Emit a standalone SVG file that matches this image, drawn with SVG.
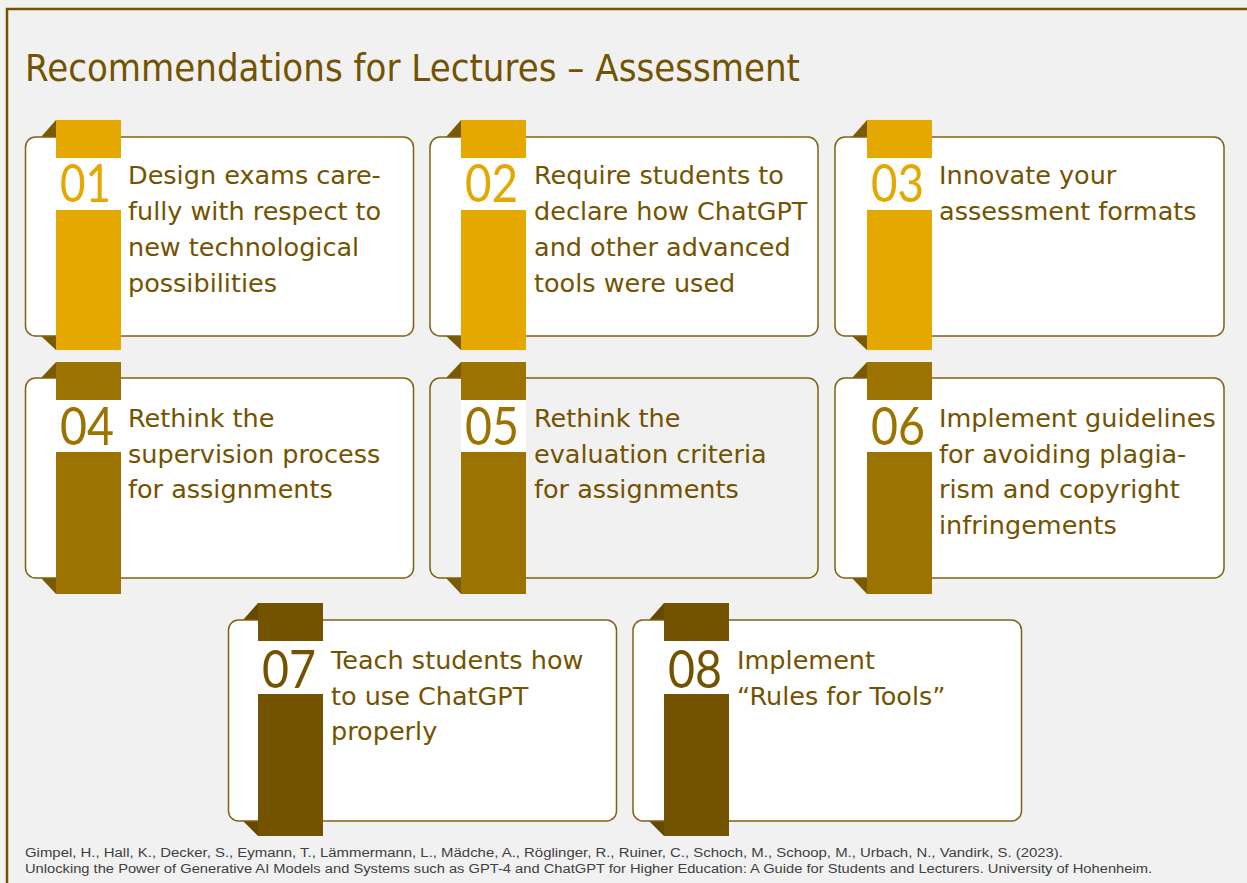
<svg xmlns="http://www.w3.org/2000/svg" width="1247" height="883" viewBox="0 0 1247 883">
<style>
.bg{fill:#f1f1f1}
.frame{fill:none;stroke:#735300;stroke-width:2.5}
.title{font-family:"DejaVu Sans",sans-serif;font-size:37px;fill:#735300}
.card{fill:#ffffff;stroke:#7f6214;stroke-width:1.5}
.card.gray{fill:#f1f1f1}
.gap{fill:#ffffff}
.body{font-family:"DejaVu Sans",sans-serif;font-size:25.5px;fill:#735300}
.num{font-family:Lato,"DejaVu Sans",sans-serif;font-size:53px}
.r1{fill:#e5a800}
.r2{fill:#9c7200}
.r3{fill:#745300}
.fold{fill:#7a5a00}
.fold3{fill:#664800}
.foot{font-family:"Liberation Sans",sans-serif;font-size:12.5px;fill:#404040}
</style>
<rect class="bg" x="0" y="0" width="1247" height="883"/>
<rect class="frame" x="7" y="9" width="1300" height="1000"/>
<text class="title" x="25" y="81" textLength="775" lengthAdjust="spacingAndGlyphs">Recommendations for Lectures – Assessment</text>

<g id="card01">
<polygon class="fold" points="41,137 56,120 56,137"/>
<polygon class="fold" points="41,336 56,350 56,336"/>
<rect class="card" x="25.5" y="137" width="388" height="199" rx="10"/>
<rect class="r1" x="56" y="120" width="65" height="230"/>
<rect class="gap" x="56" y="158" width="65" height="52"/>
<text class="num r1" x="60" y="202" textLength="51" lengthAdjust="spacingAndGlyphs">01</text>
<text class="body" x="128" y="183.5">Design exams care-</text>
<text class="body" x="128" y="219.5">fully with respect to</text>
<text class="body" x="128" y="255.5">new technological</text>
<text class="body" x="128" y="291.5">possibilities</text>
</g>

<g id="card02">
<polygon class="fold" points="446,137 461,120 461,137"/>
<polygon class="fold" points="446,336 461,350 461,336"/>
<rect class="card" x="430" y="137" width="388" height="199" rx="10"/>
<rect class="r1" x="461" y="120" width="65" height="230"/>
<rect class="gap" x="461" y="158" width="65" height="52"/>
<text class="num r1" x="465" y="202" textLength="53" lengthAdjust="spacingAndGlyphs">02</text>
<text class="body" x="534" y="183.5">Require students to</text>
<text class="body" x="534" y="219.5">declare how ChatGPT</text>
<text class="body" x="534" y="255.5">and other advanced</text>
<text class="body" x="534" y="291.5">tools were used</text>
</g>

<g id="card03">
<polygon class="fold" points="852,137 867,120 867,137"/>
<polygon class="fold" points="852,336 867,350 867,336"/>
<rect class="card" x="835" y="137" width="389" height="199" rx="10"/>
<rect class="r1" x="867" y="120" width="65" height="230"/>
<rect class="gap" x="867" y="158" width="65" height="52"/>
<text class="num r1" x="871" y="202" textLength="53" lengthAdjust="spacingAndGlyphs">03</text>
<text class="body" x="939" y="183.5">Innovate your</text>
<text class="body" x="939" y="219.5">assessment formats</text>
</g>

<g id="card04">
<polygon class="fold" points="41,378 56,362 56,378"/>
<polygon class="fold" points="41,578 56,594 56,578"/>
<rect class="card" x="25.5" y="378" width="388" height="200" rx="10"/>
<rect class="r2" x="56" y="362" width="65" height="232"/>
<rect class="gap" x="56" y="400" width="65" height="52"/>
<text class="num r2" x="60" y="444.5" textLength="54" lengthAdjust="spacingAndGlyphs">04</text>
<text class="body" x="128" y="427">Rethink the</text>
<text class="body" x="128" y="462.5">supervision process</text>
<text class="body" x="128" y="498">for assignments</text>
</g>

<g id="card05">
<polygon class="fold" points="446,378 461,362 461,378"/>
<polygon class="fold" points="446,578 461,594 461,578"/>
<rect class="card gray" x="430" y="378" width="388" height="200" rx="10"/>
<rect class="r2" x="461" y="362" width="65" height="232"/>
<rect class="gap" x="461" y="400" width="65" height="52"/>
<text class="num r2" x="465" y="444.5" textLength="54" lengthAdjust="spacingAndGlyphs">05</text>
<text class="body" x="534" y="427">Rethink the</text>
<text class="body" x="534" y="462.5">evaluation criteria</text>
<text class="body" x="534" y="498">for assignments</text>
</g>

<g id="card06">
<polygon class="fold" points="852,378 867,362 867,378"/>
<polygon class="fold" points="852,578 867,594 867,578"/>
<rect class="card" x="835" y="378" width="389" height="200" rx="10"/>
<rect class="r2" x="867" y="362" width="65" height="232"/>
<rect class="gap" x="867" y="400" width="65" height="52"/>
<text class="num r2" x="871" y="444.5" textLength="54" lengthAdjust="spacingAndGlyphs">06</text>
<text class="body" x="939" y="427">Implement guidelines</text>
<text class="body" x="939" y="462.5">for avoiding plagia-</text>
<text class="body" x="939" y="498">rism and copyright</text>
<text class="body" x="939" y="533.5">infringements</text>
</g>

<g id="card07">
<polygon class="fold3" points="243,620 258,603 258,620"/>
<polygon class="fold3" points="243,821 258,836 258,821"/>
<rect class="card" x="228.5" y="620" width="388" height="201" rx="10"/>
<rect class="r3" x="258" y="603" width="65" height="233"/>
<rect class="gap" x="258" y="641" width="65" height="53"/>
<text class="num r3" x="262" y="687.5" textLength="54" lengthAdjust="spacingAndGlyphs">07</text>
<text class="body" x="331" y="669">Teach students how</text>
<text class="body" x="331" y="704.5">to use ChatGPT</text>
<text class="body" x="331" y="740">properly</text>
</g>

<g id="card08">
<polygon class="fold3" points="649,620 664,603 664,620"/>
<polygon class="fold3" points="649,821 664,836 664,821"/>
<rect class="card" x="633" y="620" width="388.5" height="201" rx="10"/>
<rect class="r3" x="664" y="603" width="65" height="233"/>
<rect class="gap" x="664" y="641" width="65" height="53"/>
<text class="num r3" x="668" y="687.5" textLength="54" lengthAdjust="spacingAndGlyphs">08</text>
<text class="body" x="737" y="669">Implement</text>
<text class="body" x="737" y="704.5">“Rules for Tools”</text>
</g>

<g id="connectors"></g>

<g id="footer">
<text class="foot" x="25" y="857" textLength="1038" lengthAdjust="spacingAndGlyphs">Gimpel, H., Hall, K., Decker, S., Eymann, T., Lämmermann, L., Mädche, A., Röglinger, R., Ruiner, C., Schoch, M., Schoop, M., Urbach, N., Vandirk, S. (2023).</text>
<text class="foot" x="25" y="873" textLength="1127" lengthAdjust="spacingAndGlyphs">Unlocking the Power of Generative AI Models and Systems such as GPT-4 and ChatGPT for Higher Education: A Guide for Students and Lecturers. University of Hohenheim.</text>
</g>
</svg>
